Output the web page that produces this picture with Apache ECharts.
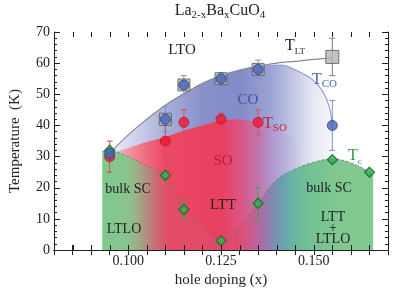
<!DOCTYPE html>
<html><head><meta charset="utf-8">
<script src="https://cdn.jsdelivr.net/npm/echarts@6/dist/echarts.min.js"></script>
<style>html,body{margin:0;padding:0;background:#fff}#c{width:406px;height:293px}</style>
</head><body><div id="c"></div>
<script>
// ---------- data ----------
const xTickLabels = ['0.100', '0.125', '0.150'];
const xTickValues = [0.080, 0.085, 0.090, 0.095, 0.100, 0.105, 0.110, 0.115, 0.120, 0.125,
                     0.130, 0.135, 0.140, 0.145, 0.150, 0.155, 0.160, 0.165, 0.170];
const yTickLabels = ['0', '10', '20', '30', '40', '50', '60', '70'];

// T_LT (grey squares)
const tltX = [0.110, 0.115, 0.125, 0.135, 0.155];
const tltY = [42, 53, 55, 58, 62];
const tltErr = [0, 0, 0, 0, 6];

// T_CO (blue circles)
const tcoX = [0.095, 0.110, 0.115, 0.125, 0.135, 0.155];
const tcoY = [31, 42, 53, 55, 58, 40];
const tcoErr = [0, 4, 3, 2, 3, 8];

// T_SO (red circles)
const tsoX = [0.095, 0.110, 0.115, 0.125, 0.135];
const tsoY = [30, 35, 41, 42, 41];
const tsoErr = [5, 5, 4, 2, 4];

// Tc (green diamonds)
const tcX = [0.095, 0.110, 0.115, 0.125, 0.135, 0.155, 0.165];
const tcY = [32, 24, 13, 3, 15, 29, 25];
const tcErr = [0, 0, 3, 0, 5, 0, 0];

// phase boundaries
const ltCurveX = [0.095, 0.100, 0.105, 0.110, 0.115, 0.120, 0.125, 0.130, 0.135, 0.140, 0.145, 0.150, 0.155];
const ltCurveY = [31, 37, 42, 46.5, 50.2, 53.5, 56, 57.8, 59, 60, 60.6, 61.2, 61.7];
const coCurveX = [0.135, 0.141, 0.1458, 0.1496, 0.1523, 0.1541, 0.155];
const coCurveY = [59, 59.4, 57.4, 54.8, 51.1, 46.3, 40];
const soCurveX = [0.095, 0.100, 0.105, 0.110, 0.115, 0.120, 0.125, 0.130, 0.135, 0.140, 0.145, 0.150];
const soCurveY = [31, 32.8, 34.7, 36.3, 38.4, 40, 41.6, 41.9, 41, 39, 35, 30];
const scCurveX = [0.093, 0.095, 0.100, 0.105, 0.110, 0.115, 0.120, 0.125, 0.130, 0.135, 0.140, 0.145, 0.150, 0.155, 0.160, 0.166];
const scCurveY = [31.8, 31.8, 30, 27, 24, 13, 7.5, 3, 7.5, 15, 22.5, 26, 28.2, 29.2, 28, 24.5];

// ---------- helpers ----------
const SERIF = 'Liberation Serif';
const zip = (xs, ys) => xs.map((x, i) => [x, ys[i]]);
const zip3 = (xs, ys, es) => xs.map((x, i) => [x, ys[i], es[i]]);
function hgrad(xs, stops) {
  const x0 = Math.min(...xs), x1 = Math.max(...xs);
  return {
    type: 'linear', x: 0, y: 0, x2: 1, y2: 0,
    colorStops: stops.map(([x, c]) => ({ offset: Math.max(0, Math.min(1, (x - x0) / (x1 - x0))), color: c }))
  };
}

const coAreaX = ltCurveX.filter(x => x < 0.135).concat(coCurveX);
const coAreaY = ltCurveY.filter((y, i) => ltCurveX[i] < 0.135).concat(coCurveY);

function errSeries(xs, ys, es, color, z) {
  return {
    type: 'custom', z: z, data: zip3(xs, ys, es),
    renderItem: function (params, api) {
      const x = api.value(0), y = api.value(1), e = api.value(2);
      if (!e) return null;
      const t = api.coord([x, y + e]), b = api.coord([x, y - e]);
      const st = { stroke: color, lineWidth: 1 };
      return {
        type: 'group', children: [
          { type: 'line', shape: { x1: t[0], y1: t[1], x2: b[0], y2: b[1] }, style: st },
          { type: 'line', shape: { x1: t[0] - 3, y1: t[1], x2: t[0] + 3, y2: t[1] }, style: st },
          { type: 'line', shape: { x1: b[0] - 3, y1: b[1], x2: b[0] + 3, y2: b[1] }, style: st }
        ]
      };
    }
  };
}

const axisLine = { lineStyle: { color: '#222', width: 1 } };

const xAxisBase = {
  type: 'value', min: 0.08, max: 0.17, interval: 0.005,
  axisLine: axisLine, splitLine: { show: false },
  axisTick: { inside: true, length: 5, lineStyle: { color: '#222' } }
};
const yAxisBase = {
  type: 'value', min: 0, max: 70, interval: 10,
  axisLine: axisLine, splitLine: { show: false },
  axisTick: { inside: true, length: 6, lineStyle: { color: '#222' } },
  minorTick: { show: true, splitNumber: 5, length: 3, lineStyle: { color: '#222' } },
  minorSplitLine: { show: false }
};

const chart = echarts.init(document.getElementById('c'), null, { renderer: 'canvas' });

const option = {
  animation: false,
  backgroundColor: '#fff',
  grid: { left: 53, right: 18, top: 32, bottom: 40 },
  xAxis: [
    Object.assign({}, xAxisBase, {
      position: 'bottom',
      name: 'hole doping (x)', nameLocation: 'middle', nameGap: 18,
      nameTextStyle: { fontFamily: SERIF, fontSize: 15, color: '#222' },
      axisLabel: {
        color: '#222', fontFamily: SERIF, fontSize: 14, margin: 4,
        formatter: v => (xTickLabels.indexOf(v.toFixed(3)) >= 0 ? v.toFixed(3) : '')
      }
    }),
    Object.assign({}, xAxisBase, { position: 'top', axisLabel: { show: false } })
  ],
  yAxis: [
    Object.assign({}, yAxisBase, {
      position: 'left',
      name: 'Temperature  (K)', nameLocation: 'middle', nameGap: 31, nameRotate: 90,
      nameTextStyle: { fontFamily: SERIF, fontSize: 15, color: '#222' },
      axisLabel: {
        color: '#222', fontFamily: SERIF, fontSize: 14, margin: 4,
        formatter: v => yTickLabels[Math.round(v / 10)]
      }
    }),
    Object.assign({}, yAxisBase, { position: 'right', axisLabel: { show: false } })
  ],
  series: [
    // CO region
    {
      type: 'line', z: 1, smooth: 0.3, symbol: 'none', data: zip(coAreaX, coAreaY),
      lineStyle: { width: 0 },
      areaStyle: {
        opacity: 1,
        color: hgrad(coAreaX, [
          [0.095, '#eef0f8'], [0.100, '#d6daee'], [0.110, '#a9b0da'], [0.120, '#8891ca'],
          [0.130, '#838cc7'], [0.138, '#9aa2d3'], [0.145, '#c6cae6'], [0.150, '#e6e8f4'], [0.155, '#f7f7fb']
        ])
      }
    },
    // SO region
    {
      type: 'line', z: 2, smooth: 0.3, symbol: 'none', data: zip(soCurveX, soCurveY),
      lineStyle: { width: 0 },
      areaStyle: {
        opacity: 1,
        color: hgrad(soCurveX, [
          [0.095, 'rgba(250,205,210,1)'], [0.100, 'rgba(243,150,162,1)'], [0.105, 'rgba(239,105,125,1)'],
          [0.110, 'rgba(236,72,100,1)'], [0.125, 'rgba(232,64,96,1)'], [0.130, 'rgba(225,80,125,0.95)'],
          [0.135, 'rgba(210,105,160,0.75)'], [0.140, 'rgba(195,140,200,0.35)'], [0.147, 'rgba(200,160,210,0)'],
          [0.150, 'rgba(200,160,210,0)']
        ])
      }
    },
    // SC region (below Tc)
    {
      type: 'line', z: 3, smooth: 0.4, symbol: 'none', data: zip(scCurveX, scCurveY),
      lineStyle: { width: 1, type: [3, 2], color: 'rgba(110,120,110,0.75)' },
      areaStyle: {
        opacity: 1,
        color: hgrad(scCurveX, [
          [0.093, '#7ec98d'], [0.099, '#86c68e'], [0.102, '#98b488'], [0.105, '#b48c80'],
          [0.108, '#d2646f'], [0.111, '#e24c66'], [0.129, '#e0496b'], [0.132, '#d45584'],
          [0.135, '#b8669c'], [0.138, '#8c80b2'], [0.141, '#6c9db0'], [0.145, '#68b79f'],
          [0.150, '#74c293'], [0.156, '#80c891'], [0.166, '#82c990']
        ])
      }
    },
    // T_LT line
    {
      type: 'line', z: 4, smooth: 0.4, symbol: 'none', data: zip(ltCurveX, ltCurveY),
      lineStyle: { width: 1.2, color: '#8a8a8a' }
    },
    // T_CO line
    {
      type: 'line', z: 4, smooth: 0.4, symbol: 'none', data: zip(coCurveX, coCurveY),
      lineStyle: { width: 1.2, color: '#8e9fdc' }
    },
    // error bars
    errSeries(tltX, tltY, tltErr, '#7a7a7a', 5),
    errSeries(tcoX, tcoY, tcoErr, '#7f8fd2', 5),
    errSeries(tsoX, tsoY, tsoErr, '#d2505e', 5),
    errSeries(tcX, tcY, tcErr, '#4c9a5c', 5),
    // markers
    {
      type: 'scatter', z: 6, symbol: 'rect',
      data: zip(tltX, tltY).map((d, i) => ({ value: d, symbolSize: tltErr[i] ? 13 : 12 })),
      itemStyle: { color: '#b4b4b4', borderColor: '#555', borderWidth: 1 }
    },
    {
      type: 'scatter', z: 7, symbol: 'circle', symbolSize: 10, data: zip(tsoX, tsoY),
      itemStyle: { color: '#ec1a34', borderColor: '#c8102a', borderWidth: 1 }
    },
    {
      type: 'scatter', z: 8, symbol: 'diamond', symbolSize: [10, 10], data: zip(tcX, tcY),
      itemStyle: { color: '#35b24e', borderColor: '#16702c', borderWidth: 1.5 }
    },
    {
      type: 'scatter', z: 9, symbol: 'circle', symbolSize: 10, data: zip(tcoX, tcoY),
      itemStyle: { color: '#4564b8', borderColor: '#2a4490', borderWidth: 1 }
    },
    // x-axis ticks on bottom and top, drawn as thin filled bars above the fills
    {
      type: 'custom', z: 40,
      data: xTickValues.map(v => [v, 35]),
      renderItem: function (params, api) {
        const v = api.value(0);
        const b = api.coord([v, 0]), t = api.coord([v, 70]);
        const x = Math.round(b[0]);
        return {
          type: 'group', children: [
            { type: 'rect', shape: { x: x, y: b[1] - 5, width: 1, height: 5 }, style: { fill: '#1a1a1a' } },
            { type: 'rect', shape: { x: x, y: t[1], width: 1, height: 5 }, style: { fill: '#1a1a1a' } }
          ]
        };
      }
    }
  ],
  graphic: []
};

function txt(x, y, text, size, color, align) {
  return {
    type: 'text', x: x, y: y, z: 100,
    style: { text: text, fontFamily: SERIF, fontSize: size, fill: color, align: align || 'center', verticalAlign: 'middle' }
  };
}
function rich(x, y, text, main, sub, color, align) {
  return {
    type: 'text', x: x, y: y, z: 100,
    style: {
      text: text, fill: color, align: align || 'center', verticalAlign: 'top',
      rich: {
        a: { fontFamily: SERIF, fontSize: main, lineHeight: main + 2, verticalAlign: 'top', fill: color },
        s: { fontFamily: SERIF, fontSize: sub, lineHeight: sub + 3, verticalAlign: 'bottom', fill: color }
      }
    }
  };
}

option.graphic = [
  rich(220, 3, '{a|La}{s|2-x}{a|Ba}{s|x}{a|CuO}{s|4}', 16, 11, '#222', 'center'),
  txt(182, 50, 'LTO', 15, '#222'),
  rich(285, 38, '{a|T}{s|LT}', 16, 9, '#222', 'left'),
  txt(248, 100, 'CO', 15, '#3a56a8'),
  rich(312, 72, '{a|T}{s|CO}', 16, 11, '#4a66b8', 'left'),
  rich(263, 116, '{a|T}{s|SO}', 16, 11, '#d0202e', 'left'),
  txt(223, 161, 'SO', 15, '#b8203c'),
  rich(348, 148, '{a|T}{s|c}', 16, 9, '#2f9a48', 'left'),
  txt(128, 189, 'bulk SC', 14, '#222'),
  txt(329, 188, 'bulk SC', 14, '#222'),
  txt(223, 205, 'LTT', 15, '#222'),
  txt(124, 229, 'LTLO', 14, '#222'),
  txt(333, 217, 'LTT', 14, '#222'),
  txt(333, 228, '+', 14, '#222'),
  txt(333, 239, 'LTLO', 14, '#222')
];

chart.setOption(option);
</script>
</body></html>
